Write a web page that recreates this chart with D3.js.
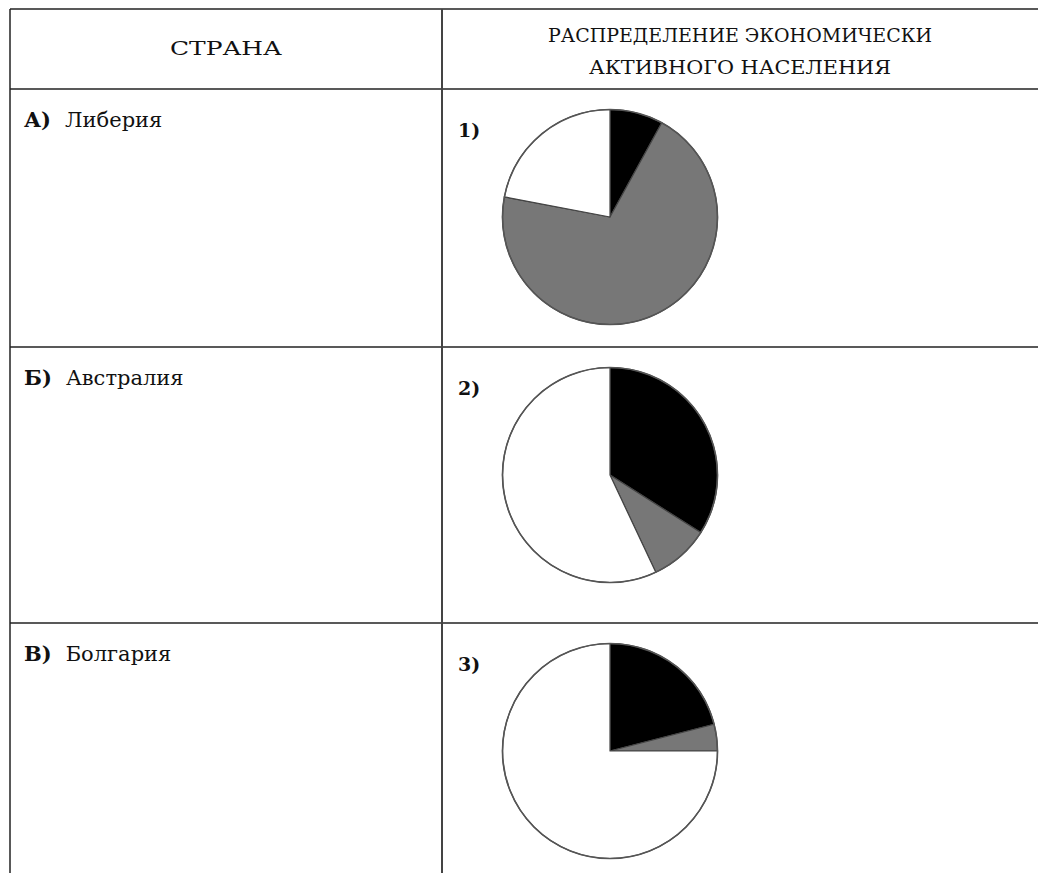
<!DOCTYPE html>
<html>
<head>
<meta charset="utf-8">
<script src="https://cdn.jsdelivr.net/npm/d3@7"></script>
<style>
  body { margin: 0; background: #fff; }
  svg { display: block; }
  text { font-family: "DejaVu Serif", serif; fill: #111; }
</style>
</head>
<body>
<svg></svg>
<script>
// Table content
const headers = ["СТРАНА", ["РАСПРЕДЕЛЕНИЕ ЭКОНОМИЧЕСКИ", "АКТИВНОГО НАСЕЛЕНИЯ"]];
const rowLetters = ["А)", "Б)", "В)"];
const countries = ["Либерия", "Австралия", "Болгария"];
const pieLabels = ["1)", "2)", "3)"];

// Sector shares (%), clockwise from 12 o'clock
const sectors = ["industry", "agriculture", "services"];
const pie1 = [8, 70, 22];
const pie2 = [34, 9, 57];
const pie3 = [21, 4, 75];
const pies = [pie1, pie2, pie3];

const width = 1038;
const height = 873;

const svg = d3.select("svg")
    .attr("width", width)
    .attr("height", height);

// Table grid
const tableLeft = 10, tableTop = 9, colX = 442;
const rowTops = [89, 347, 623];

const grid = svg.append("g")
    .attr("stroke", "#222")
    .attr("stroke-width", 1.5);

grid.append("line").attr("x1", tableLeft).attr("x2", width).attr("y1", tableTop).attr("y2", tableTop);
grid.selectAll("line.row")
    .data(rowTops)
    .enter().append("line")
    .attr("class", "row")
    .attr("x1", tableLeft).attr("x2", width)
    .attr("y1", d => d).attr("y2", d => d);
grid.append("line").attr("x1", tableLeft).attr("x2", tableLeft).attr("y1", tableTop).attr("y2", height);
grid.append("line").attr("x1", colX).attr("x2", colX).attr("y1", tableTop).attr("y2", height)
    .attr("stroke", "#444").attr("stroke-width", 2);

// Header text (the scan is a bit wider than the font, so stretch to fit)
svg.append("text")
    .attr("x", (tableLeft + colX) / 2)
    .attr("y", 55)
    .attr("text-anchor", "middle")
    .attr("textLength", 112)
    .attr("lengthAdjust", "spacingAndGlyphs")
    .style("font-size", "19px")
    .text(headers[0]);

const h2Widths = [384, 302];
svg.selectAll("text.h2")
    .data(headers[1])
    .enter().append("text")
    .attr("class", "h2")
    .attr("x", (colX + width) / 2)
    .attr("y", (d, i) => 42 + i * 32)
    .attr("text-anchor", "middle")
    .attr("textLength", (d, i) => h2Widths[i])
    .attr("lengthAdjust", "spacingAndGlyphs")
    .style("font-size", "19px")
    .text(d => d);

// Country labels
const lab = svg.selectAll("text.country")
    .data(countries)
    .enter().append("text")
    .attr("class", "country")
    .attr("x", 24)
    .attr("y", (d, i) => rowTops[i] + 38)
    .style("font-size", "21px");
lab.append("tspan").style("font-weight", "bold").text((d, i) => rowLetters[i]);
lab.append("tspan").attr("dx", 14).text(d => d);

// Pie number labels
svg.selectAll("text.num")
    .data(pieLabels)
    .enter().append("text")
    .attr("class", "num")
    .attr("x", 458)
    .attr("y", (d, i) => rowTops[i] + 48)
    .style("font-size", "19px")
    .style("font-weight", "bold")
    .text(d => d);

// Pies
const color = d3.scaleOrdinal()
    .domain(sectors)
    .range(["#000000", "#777777", "#ffffff"]);

const r = 107.5;
const pie = d3.pie().sort(null).value(d => d.value);
const arc = d3.arc().innerRadius(0).outerRadius(r);

pies.forEach((vals, i) => {
    const g = svg.append("g")
        .attr("transform", `translate(${colX + 168},${rowTops[i] + 128})`);
    const data = sectors.map((s, j) => ({ sector: s, value: vals[j] }));
    g.selectAll("path")
        .data(pie(data))
        .enter().append("path")
        .attr("d", arc)
        .attr("fill", d => color(d.data.sector))
        .attr("stroke", "#444")
        .attr("stroke-width", 1.2)
        .attr("stroke-linejoin", "round");
    g.append("circle")
        .attr("r", r)
        .attr("fill", "none")
        .attr("stroke", "#555")
        .attr("stroke-width", 1.6);
});
</script>
</body>
</html>
